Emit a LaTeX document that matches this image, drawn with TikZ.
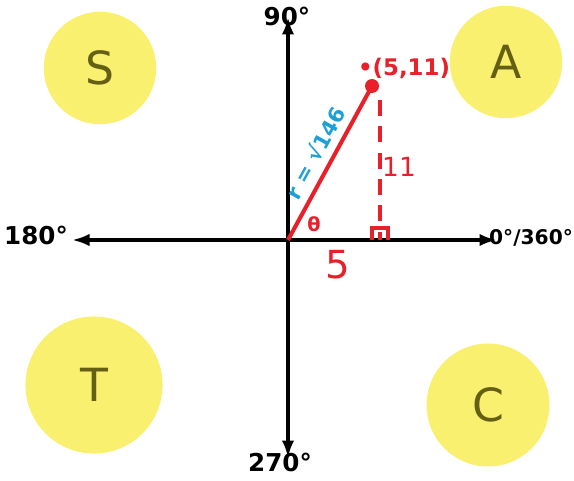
\documentclass[tikz,border=0pt]{standalone}
\usepackage{fontspec}
\setmainfont{DejaVu Sans}
\usetikzlibrary{arrows.meta, positioning, calc}
\definecolor{quadyellow}{RGB}{248,240,110}
\definecolor{quadtext}{RGB}{100,95,20}
\definecolor{penred}{RGB}{232,32,42}
\definecolor{penblue}{RGB}{30,160,215}
\tikzset{
  axis/.style={{Latex[length=3.5mm, width=2.5mm]}-{Latex[length=3.5mm, width=2.5mm]}, line width=2pt},
  angle/.style={font=\bfseries\fontsize{14}{14}\selectfont, inner sep=1pt},
  quad/.style={circle, fill=quadyellow, text=quadtext, font=\fontsize{26}{26}\selectfont, inner sep=0pt},
  side/.style={line width=2.3pt, penred},
  rlabel/.style={text=penred, font=\bfseries\fontsize{13}{13}\selectfont, inner sep=1pt},
  every node/.style={font=\small}
}
\begin{document}
\begin{tikzpicture}[x=0.2mm, y=-0.2mm]
    \useasboundingbox (0,0) rectangle (574,480);
    % axes
    \coordinate (O) at (288,240);
    \coordinate (E) at (497,240);
    \coordinate (W) at (72,240);
    \coordinate (N) at (288,17);
    \coordinate (S) at (288,458);
    \draw[axis] (W) -- (E);
    \draw[axis] (S) -- (N);
    \node[angle] (deg90) at (287,16) {90°};
    \node[angle] (deg180) at (36,235) {180°};
    \node[angle, font=\bfseries\fontsize{11.5}{12}\selectfont] (deg0) at (531,238) {0°/360°};
    \node[angle] (deg270) at (280,462) {270°};
    % quadrants
    \node[quad, minimum size=64pt] (qS) at (100,68) {S};
    \node[quad, minimum size=64pt] (qA) at (506,62) {A};
    \node[quad, minimum size=78pt] (qT) at (94,385) {T};
    \node[quad, minimum size=70pt] (qC) at (488,405) {C};
    % triangle
    \coordinate (P) at (372,86);
    \coordinate (F) at (380,240);
    \draw[side] (O) -- (P);
    \fill[penred] (P) circle (7);
    \draw[side, line width=2pt, dash pattern=on 9pt off 6pt] (380,100) -- (F);
    \draw[penred, line width=1.8pt] (372,240) -- (372,228) -- (388,228) -- (388,240);
    \node[rlabel] (pt) at (404,68) {•(5,11)};
    \node[rlabel, font=\fontsize{22}{22}\selectfont] (base) at (338,265) {5};
    \node[rlabel, font=\fontsize{15}{15}\selectfont] (height) at (399,167) {11};
    \node[rlabel, font=\bfseries\fontsize{11}{11}\selectfont] (theta) at (314,224) {θ};
    \node[text=penblue, rotate=61, font=\bfseries\fontsize{12}{12}\selectfont] (rad) at (315,153) {r = √146};
\end{tikzpicture}
\end{document}
